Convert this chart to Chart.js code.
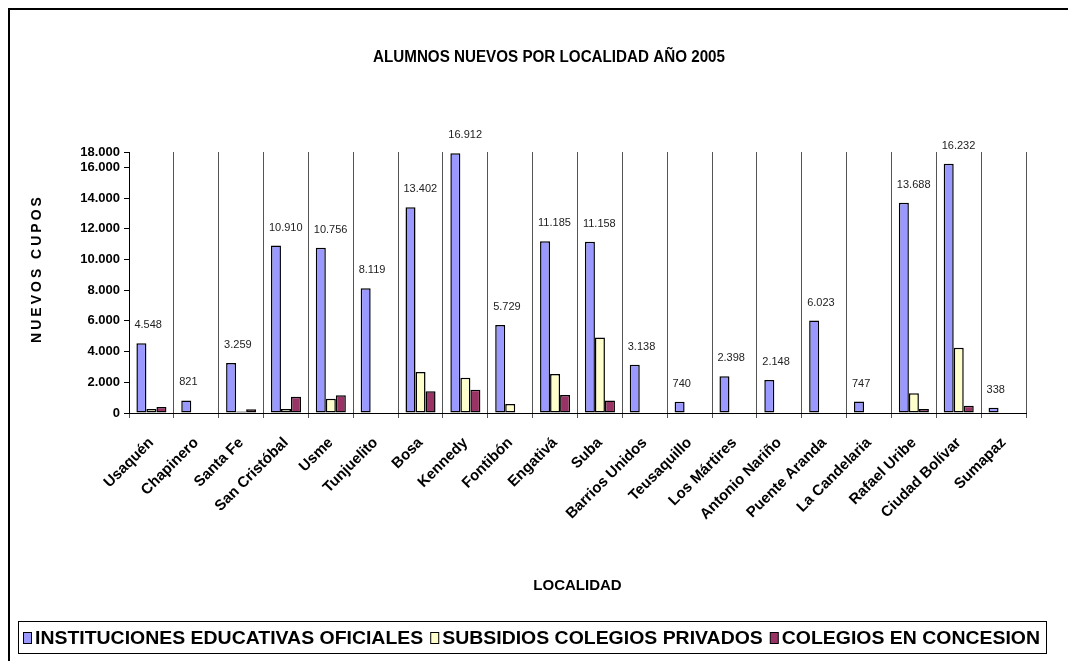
<!DOCTYPE html>
<html>
<head>
<meta charset="utf-8">
<script src="https://cdn.jsdelivr.net/npm/chart.js@4.4.0/dist/chart.umd.min.js"></script>
<style>
  html, body { margin: 0; padding: 0; background: #fff; }
  #wrap { width: 1068px; height: 661px; }
</style>
</head>
<body>
<div id="wrap"><canvas id="bar-chart" width="1068" height="661"></canvas></div>
<script>
const localidades = [
  "Usaquén", "Chapinero", "Santa Fe", "San Cristóbal", "Usme", "Tunjuelito",
  "Bosa", "Kennedy", "Fontibón", "Engativá", "Suba", "Barrios Unidos",
  "Teusaquillo", "Los Mártires", "Antonio Nariño", "Puente Aranda",
  "La Candelaria", "Rafael Uribe", "Ciudad Bolívar", "Sumapaz",
];
const oficiales = [
  4548, 821, 3259, 10910, 10756, 8119, 13402, 16912, 5729, 11185, 11158, 3138,
  740, 2398, 2148, 6023, 747, 13688, 16232, 338,
];
const subsidios = [
  260, null, 100, 260, 930, null, 2670, 2300, 590, 2540, 4920, null,
  null, null, null, null, null, 1280, 4250, null,
];
const concesion = [
  390, null, 250, 1060, 1150, null, 1410, 1520, null, 1170, 820, null,
  null, null, null, null, null, 260, 480, null,
];
const seriesNames = [
  "INSTITUCIONES EDUCATIVAS OFICIALES",
  "SUBSIDIOS COLEGIOS PRIVADOS",
  "COLEGIOS EN CONCESION",
];
const yTickValues = [0, 2000, 4000, 6000, 8000, 10000, 12000, 14000, 16000, 17000];
const yTickLabels = ["0", "2.000", "4.000", "6.000", "8.000", "10.000", "12.000", "14.000", "16.000", "18.000"];

const FONT = '"Liberation Sans", Arial, sans-serif';
const colors = ["#9999FF", "#FFFFCC", "#993366"];

// 16912 -> "16.912"
function fmt(n) {
  return String(n).replace(/\B(?=(\d{3})+(?!\d))/g, ".");
}

// text squeezed horizontally to a given width
function drawFitted(ctx, text, x, y, width) {
  const w = ctx.measureText(text).width;
  ctx.save();
  ctx.translate(x, y);
  ctx.scale(width / w, 1);
  ctx.fillText(text, 0, 0);
  ctx.restore();
}

const valueLabels = {
  id: "valueLabels",
  afterDatasetsDraw(chart) {
    const ctx = chart.ctx;
    const meta = chart.getDatasetMeta(0);
    ctx.save();
    ctx.font = "11px " + FONT;
    ctx.fillStyle = "#222";
    ctx.textAlign = "left";
    ctx.textBaseline = "middle";
    meta.data.forEach((bar, i) => {
      ctx.fillText(fmt(oficiales[i]), bar.x - bar.width / 2 - 2, bar.y - 18);
    });
    ctx.restore();
  },
};

const frame = {
  id: "frame",
  afterDraw(chart) {
    const ctx = chart.ctx;
    const area = chart.chartArea;
    ctx.save();
    // outer border
    ctx.strokeStyle = "#000";
    ctx.lineWidth = 2;
    ctx.beginPath();
    ctx.moveTo(9, 661);
    ctx.lineTo(9, 9);
    ctx.lineTo(1068, 9);
    ctx.stroke();

    // title
    ctx.fillStyle = "#000";
    ctx.font = "bold 16px " + FONT;
    ctx.textBaseline = "middle";
    ctx.textAlign = "left";
    drawFitted(ctx, "ALUMNOS NUEVOS POR LOCALIDAD AÑO 2005", 373, 58, 352);

    // value axis title, spaced out
    ctx.save();
    ctx.translate(37, (area.top + area.bottom) / 2 - 14);
    ctx.rotate(-Math.PI / 2);
    ctx.font = "bold 14px " + FONT;
    ctx.letterSpacing = "3px";
    ctx.textAlign = "center";
    ctx.fillText("NUEVOS CUPOS", 0, 0);
    ctx.restore();

    // legend box
    ctx.lineWidth = 1;
    ctx.strokeStyle = "#000";
    ctx.strokeRect(18.5, 621.5, 1028, 32);
    ctx.font = "bold 18px " + FONT;
    ctx.textBaseline = "alphabetic";
    const marker = 12, gap = 7;
    const widths = seriesNames.map((t) => ctx.measureText(t).width);
    const total = widths.reduce((a, b) => a + b, 0);
    const sx = (1017 - marker * 3 - gap * 2) / total;
    let x = 23;
    seriesNames.forEach((name, i) => {
      ctx.fillStyle = colors[i];
      ctx.fillRect(x + 0.5, 632.5, 8, 11);
      ctx.strokeRect(x + 0.5, 632.5, 8, 11);
      ctx.fillStyle = "#000";
      drawFitted(ctx, name, x + marker, 644, widths[i] * sx);
      x += marker + widths[i] * sx + gap;
    });
    ctx.restore();
  },
};

new Chart(document.getElementById("bar-chart"), {
  type: "bar",
  data: {
    labels: localidades,
    datasets: [
      { label: seriesNames[0], data: oficiales, backgroundColor: colors[0] },
      { label: seriesNames[1], data: subsidios, backgroundColor: colors[1] },
      { label: seriesNames[2], data: concesion, backgroundColor: colors[2] },
    ].map((d) => ({
      ...d,
      borderColor: "#000",
      borderWidth: 1.5,
      borderSkipped: false,
      barPercentage: 1,
      categoryPercentage: 0.67,
    })),
  },
  options: {
    responsive: false,
    animation: false,
    devicePixelRatio: 1,
    layout: {
      padding: { left: 20, right: 42, top: 152, bottom: 58 },
    },
    plugins: {
      legend: { display: false },
      title: { display: false },
      tooltip: { enabled: false },
    },
    scales: {
      x: {
        afterFit: (scale) => { scale.height = 190; },
        ticks: {
          autoSkip: false,
          minRotation: 45,
          maxRotation: 45,
          padding: 16,
          color: "#000",
          font: { family: FONT, size: 15, weight: "bold" },
        },
        grid: { offset: true, color: "#555", tickLength: 5 },
        border: { color: "#000", width: 1 },
        title: {
          display: true,
          text: "LOCALIDAD",
          color: "#000",
          font: { family: FONT, size: 15, weight: "bold" },
          padding: { top: 0, bottom: 8 },
        },
      },
      y: {
        min: 0,
        max: 17000,
        afterBuildTicks: (scale) => {
          scale.ticks = yTickValues.map((v) => ({ value: v }));
        },
        afterFit: (scale) => { scale.width = 109; },
        ticks: {
          callback: (v, i) => yTickLabels[i],
          padding: 4,
          color: "#000",
          font: { family: FONT, size: 13, weight: "bold" },
        },
        grid: { drawOnChartArea: false, tickLength: 5, color: "#000" },
        border: { color: "#000", width: 1 },
      },
    },
  },
  plugins: [valueLabels, frame],
});
</script>
</body>
</html>
